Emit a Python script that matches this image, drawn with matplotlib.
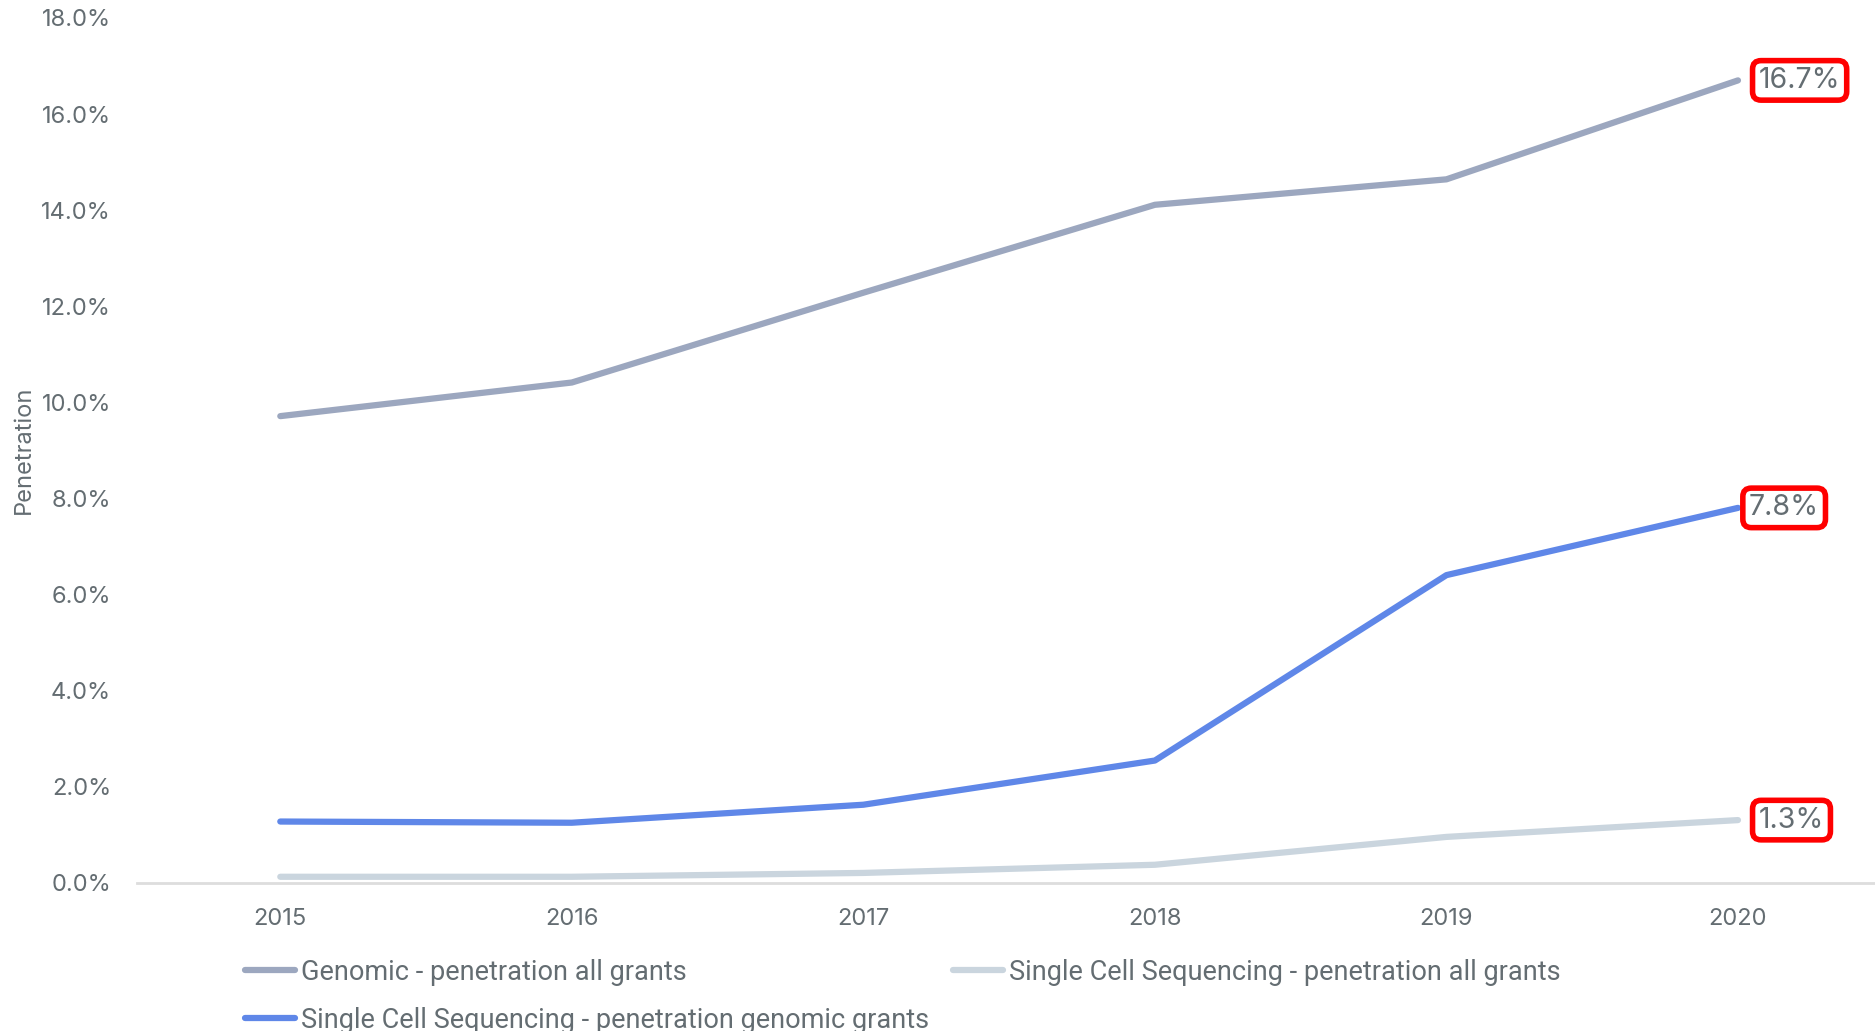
import matplotlib
matplotlib.use("Agg")
import matplotlib.pyplot as plt
from matplotlib.ticker import FuncFormatter, MultipleLocator
from matplotlib import font_manager

years = [2015, 2016, 2017, 2018, 2019, 2020]
genomic_all = [9.71, 10.41, 12.28, 14.11, 14.64, 16.7]
scs_all = [0.12, 0.12, 0.20, 0.37, 0.95, 1.3]
scs_genomic = [1.27, 1.245, 1.62, 2.54, 6.40, 7.8]
series_labels = ["Genomic - penetration all grants",
                 "Single Cell Sequencing - penetration all grants",
                 "Single Cell Sequencing - penetration genomic grants"]
colors = ["#9ca7bf", "#cad5de", "#5f87e8"]
end_labels = ["16.7%", "1.3%", "7.8%"]
label_offsets = [15, 15, 8]

names = {f.name for f in font_manager.fontManager.ttflist}
tick_font = "Inter" if "Inter" in names else "DejaVu Sans"
legend_font = "Roboto" if "Roboto" in names else "DejaVu Sans"

text_col = "#646d72"
fig = plt.figure(figsize=(18.75, 10.31), dpi=100)
ax = fig.add_axes([0.0733, 0.144, 0.9267, 0.8386])

data = [genomic_all, scs_all, scs_genomic]
lines = []
for vals, c, lab in zip(data, colors, series_labels):
    ln, = ax.plot(years, vals, color=c, lw=4.5, solid_capstyle="round", label=lab)
    lines.append(ln)

for vals, txt, off in zip(data, end_labels, label_offsets):
    ax.annotate(txt, (years[-1], vals[-1]), xytext=(off, 0), textcoords="offset points",
                va="center", ha="left", fontsize=20.5, color=text_col, family=tick_font,
                bbox=dict(boxstyle="round,pad=0.22,rounding_size=0.3", fc="white",
                          ec="#ff0000", lw=4))

ax.set_xlim(2014.51, 2020.47)
ax.set_ylim(0, 18)
ax.yaxis.set_major_locator(MultipleLocator(2))
ax.yaxis.set_major_formatter(FuncFormatter(lambda v, p: f"{v:.1f}%"))
ax.set_xticks(years)
for s in ["top", "right", "left"]:
    ax.spines[s].set_visible(False)
ax.spines["bottom"].set_color("#dddddd")
ax.spines["bottom"].set_linewidth(2)
ax.tick_params(axis="both", length=0, labelsize=17, labelcolor=text_col)
ax.tick_params(axis="x", pad=18)
ax.tick_params(axis="y", pad=19)
for t in ax.get_xticklabels() + ax.get_yticklabels():
    t.set_family(tick_font)
ax.set_ylabel("Penetration", fontsize=17, color=text_col, family=tick_font)
ax.yaxis.set_label_coords(-0.059, 0.5)

leg = fig.legend(handles=[lines[0], lines[2], lines[1]], loc="upper left",
                 bbox_to_anchor=(0.1307, 0.070), ncol=2, frameon=False,
                 prop={"family": legend_font, "size": 19.5}, handlelength=1.85,
                 handletextpad=0.2, columnspacing=0.9, labelspacing=0.78,
                 borderaxespad=0, borderpad=0)
for t in leg.get_texts():
    t.set_color(text_col)

fig.savefig("out.png", dpi=100)
